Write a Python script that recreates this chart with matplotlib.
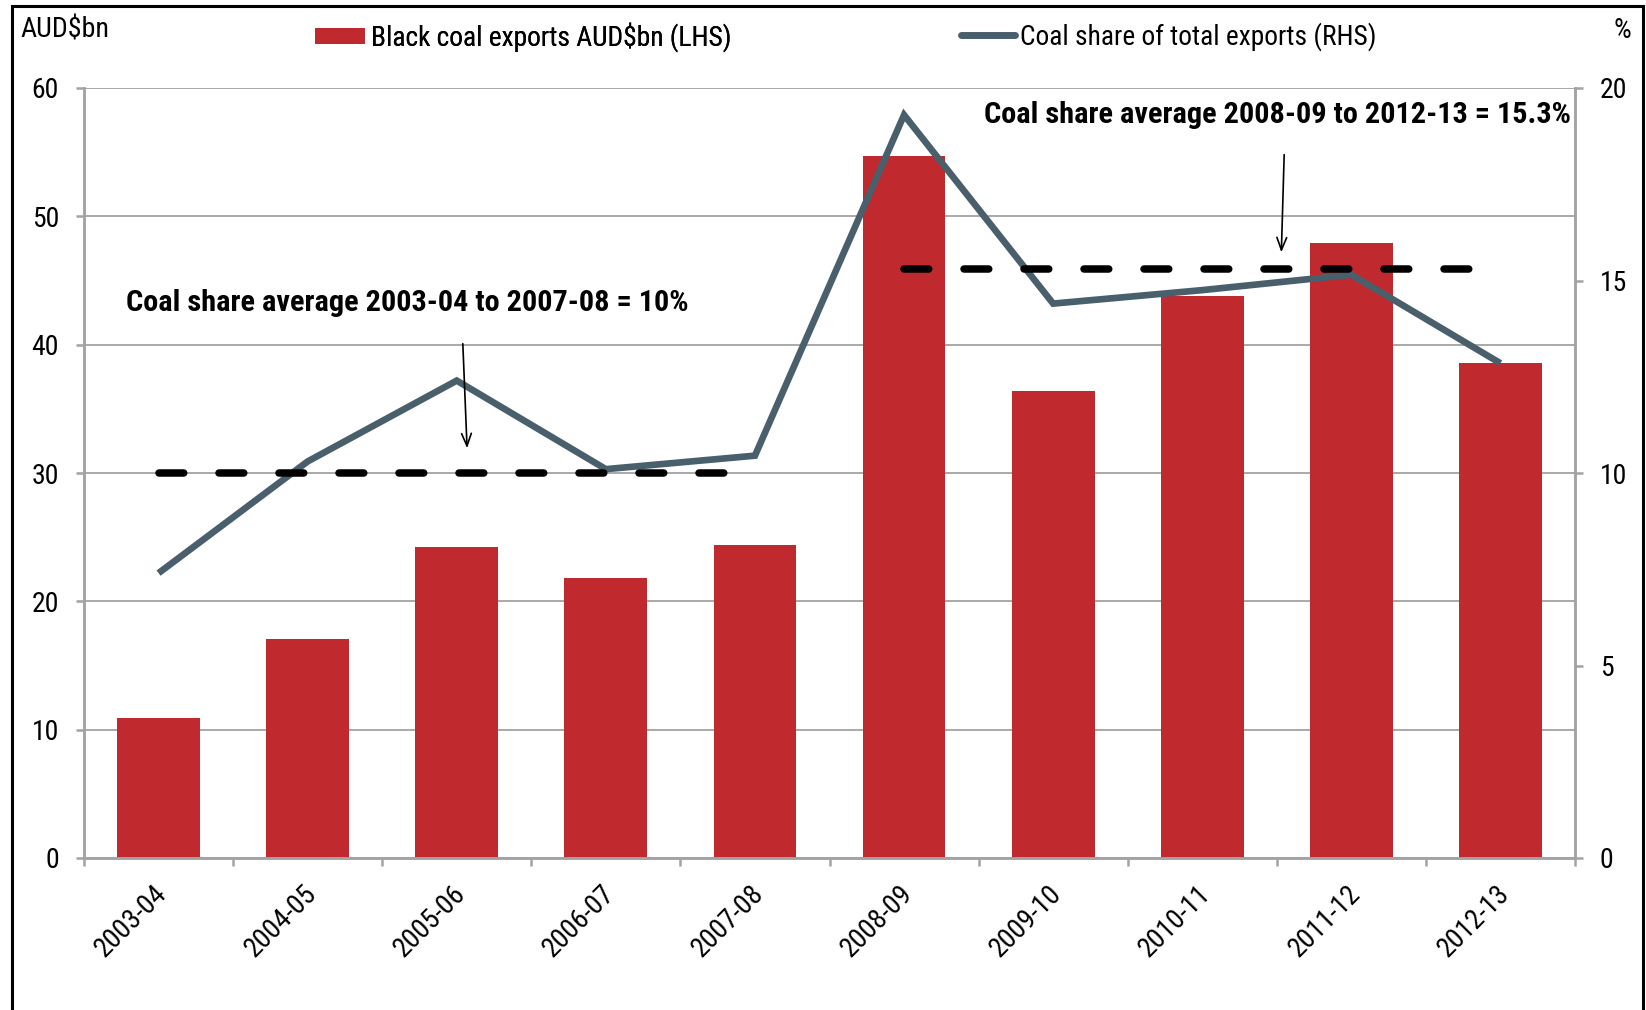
import matplotlib
matplotlib.use("Agg")
import matplotlib.pyplot as plt
from matplotlib.lines import Line2D
from matplotlib.patches import Patch, Rectangle
from matplotlib.transforms import ScaledTranslation

plt.rcParams['font.family'] = ['Roboto Condensed', 'Archivo Narrow',
                               'IBM Plex Sans Condensed', 'DejaVu Sans']

# Financial years
years = ["2003-04", "2004-05", "2005-06", "2006-07", "2007-08",
         "2008-09", "2009-10", "2010-11", "2011-12", "2012-13"]
# Black coal exports, AUD$bn (left axis)
coal_exports = [10.9, 17.1, 24.2, 21.8, 24.4, 54.7, 36.4, 43.8, 47.9, 38.6]
# Coal share of total exports, % (right axis)
coal_share = [7.4, 10.3, 12.4, 10.1, 10.45, 19.3, 14.4, 14.75, 15.15, 12.85]
# Period averages of the coal share, %
avg_early = 10.0
avg_late = 15.3

left_ticks = [0, 10, 20, 30, 40, 50, 60]
right_ticks = [0, 5, 10, 15, 20]

RED = '#C0292D'
SLATE = '#4A5F6C'
GRID = '#A3A3A3'

TICK_FS = 20
NOTE_FS = 21.8
LEG_FS = 19.7

fig = plt.figure(figsize=(16.46, 10.10), dpi=100)
ax = fig.add_axes([84 / 1646, 1 - 858 / 1010, (1575 - 84) / 1646, (858 - 88) / 1010])
ax2 = ax.twinx()

x = list(range(len(years)))
ax.bar(x, coal_exports, width=0.556, color=RED, zorder=2)

ax.set_xlim(-0.5, len(years) - 0.5)
ax.set_ylim(0, 60)
ax.set_yticks(left_ticks)
ax.set_axisbelow(True)
ax.grid(axis='y', color=GRID, linewidth=1.3, zorder=0)

ax2.set_ylim(0, 20)
ax2.set_yticks(right_ticks)
ax2.plot(x, coal_share, color=SLATE, linewidth=4.8, solid_joinstyle='miter',
         solid_capstyle='butt', zorder=3)

# Dashed period averages
dash = (0, (3.3, 4.7))
ax2.plot([0, 4], [avg_early, avg_early], color='black', linewidth=5.4,
         linestyle=dash, dash_capstyle='round', zorder=4)
ax2.plot([5, 9], [avg_late, avg_late], color='black', linewidth=5.4,
         linestyle=dash, dash_capstyle='round', zorder=4)

# Annotations
ax2.text(-0.218, 14.42, "Coal share average 2003-04 to 2007-08 = 10%",
         fontsize=NOTE_FS, fontweight='bold', ha='left', va='center', zorder=5)
ax2.annotate("", xy=(2.07, 10.57), xytext=(2.04, 13.43),
             arrowprops=dict(arrowstyle='->,head_length=0.9,head_width=0.35',
                             color='black', lw=1.2), zorder=5)
ax2.text(5.536, 19.29, "Coal share average 2008-09 to 2012-13 = 15.3%",
         fontsize=NOTE_FS, fontweight='bold', ha='left', va='center', zorder=5)
ax2.annotate("", xy=(7.53, 15.66), xytext=(7.55, 18.34),
             arrowprops=dict(arrowstyle='->,head_length=0.9,head_width=0.35',
                             color='black', lw=1.2), zorder=5)

# Spines
for a in (ax, ax2):
    a.spines['top'].set_visible(False)
    for s in ('left', 'right', 'bottom'):
        a.spines[s].set_color(GRID)
        a.spines[s].set_linewidth(1.8)

# Category boundaries carry tick marks, centres carry labels
ax.set_xticks([i - 0.5 for i in range(len(years) + 1)])
ax.set_xticklabels([])
ax.set_xticks(x, minor=True)
ax.set_xticklabels(years, minor=True, rotation=45, ha='right',
                   rotation_mode='anchor', fontsize=TICK_FS)
ax.tick_params(axis='x', which='major', length=6, width=1.8, color=GRID)
ax.tick_params(axis='x', which='minor', length=0, pad=16)
ax.tick_params(axis='y', length=6, width=1.8, color=GRID, labelsize=TICK_FS, pad=12)
ax2.tick_params(axis='y', length=6, width=1.8, color=GRID, labelsize=TICK_FS, pad=12)

# Nudge the slanted year labels slightly left
shift = ScaledTranslation(-5 / 100, 0, fig.dpi_scale_trans)
for t in ax.xaxis.get_minor_ticks(len(years)):
    t.label1.set_transform(t.label1.get_transform() + shift)

# Axis unit captions
fig.text(20 / 1646, 1 - 30 / 1010, "AUD$bn", fontsize=LEG_FS + 0.5, ha='left', va='center')
fig.text(1631 / 1646, 1 - 31 / 1010, "%", fontsize=LEG_FS + 0.5, ha='right', va='center')

# Legend entries
leg1 = fig.legend(handles=[Patch(facecolor=RED, edgecolor='none')],
                  labels=["Black coal exports AUD$bn (LHS)"],
                  loc='center left', bbox_to_anchor=(315 / 1646, 1 - 37 / 1010),
                  frameon=False, fontsize=LEG_FS, handlelength=1.81, handleheight=0.52,
                  handletextpad=0.22, borderpad=0, borderaxespad=0)
leg2 = fig.legend(handles=[Line2D([], [], color=SLATE, linewidth=5,
                                  solid_capstyle='round')],
                  labels=["Coal share of total exports (RHS)"],
                  loc='center left', bbox_to_anchor=(961 / 1646, 1 - 37 / 1010),
                  frameon=False, fontsize=LEG_FS, handlelength=1.98,
                  handletextpad=0.17, borderpad=0, borderaxespad=0)
fig.add_artist(leg1)

# Outer frame
fig.patches.append(Rectangle((12 / 1646, -0.05), (1643 - 12) / 1646, 0.05 + 1 - 6 / 1010,
                             transform=fig.transFigure, fill=False,
                             edgecolor='black', linewidth=2.2, clip_on=False))

fig.savefig("out.png", dpi=100)
